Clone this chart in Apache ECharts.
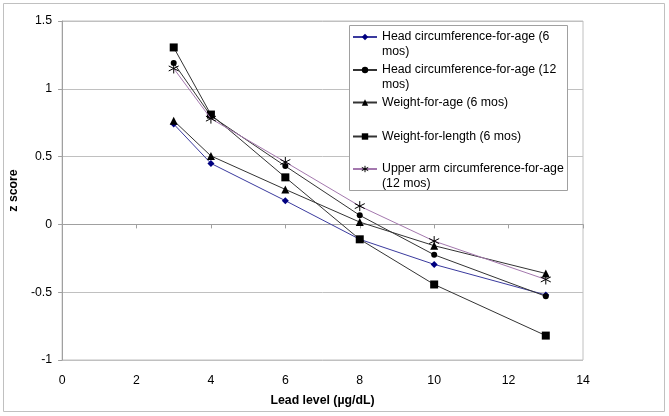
<!DOCTYPE html>
<html>
<head>
<meta charset="utf-8">
<script src="https://cdn.jsdelivr.net/npm/echarts@6/dist/echarts.min.js"></script>
<style>html,body{margin:0;padding:0;background:#fff;}#c{width:669px;height:416px;}</style>
</head>
<body>
<div id="c"></div>
<script>
var leadLevels = [3, 4, 6, 8, 10, 13];
var seriesNames = [
  'Head circumference-for-age (6\nmos)',
  'Head circumference-for-age (12\nmos)',
  'Weight-for-age (6 mos)',
  'Weight-for-length (6 mos)',
  'Upper arm circumference-for-age\n(12 mos)'
];
var headCirc6 = [0.74, 0.45, 0.175, -0.11, -0.295, -0.52];
var headCirc12 = [1.19, 0.80, 0.43, 0.067, -0.224, -0.53];
var weightForAge6 = [0.765, 0.505, 0.258, 0.017, -0.157, -0.362];
var weightForLength6 = [1.305, 0.81, 0.347, -0.11, -0.443, -0.82];
var upperArm12 = [1.15, 0.78, 0.46, 0.135, -0.123, -0.406];
var xTicks = [0, 2, 4, 6, 8, 10, 12, 14];
var yTicks = [-1, -0.5, 0, 0.5, 1, 1.5];

function pts(vals) { return leadLevels.map(function (x, i) { return [x, vals[i]]; }); }

var FONT = 'Liberation Sans, Arial, sans-serif';
var FS = 12.3;
var starPath = 'path://M0,-1L0,1M-0.866,-0.5L0.866,0.5M-0.866,0.5L0.866,-0.5';

var styles = [
  { symbol: 'diamond', size: 7, color: '#000080', line: '#3a3a9e', path: false },
  { symbol: 'circle', size: 6, color: '#000000', line: '#333333', path: false },
  { symbol: 'triangle', size: 8, color: '#000000', line: '#333333', path: false },
  { symbol: 'rect', size: 8, color: '#000000', line: '#333333', path: false },
  { symbol: starPath, size: 10, color: '#000000', line: '#a478ae', path: true }
];
var allData = [headCirc6, headCirc12, weightForAge6, weightForLength6, upperArm12];
var legendCenters = [37, 70, 102.5, 136.5, 169];

var series = allData.map(function (vals, i) {
  var s = styles[i];
  return {
    name: seriesNames[i],
    type: 'line',
    xAxisIndex: 0,
    yAxisIndex: 0,
    data: pts(vals),
    symbol: s.symbol,
    symbolSize: s.size,
    showSymbol: true,
    lineStyle: { color: s.line, width: 1 },
    itemStyle: s.path ? { color: 'none', borderColor: '#000', borderWidth: 1 } : { color: s.color, borderWidth: 0 },
    emphasis: { disabled: true },
    z: 2 + i
  };
});

var legends = seriesNames.map(function (n, i) {
  var twoLine = n.indexOf('\n') >= 0;
  var item = { name: n };
  if (styles[i].path) {
    item.itemStyle = { color: 'none', borderColor: '#000', borderWidth: 1 };
  }
  return {
    data: [item],
    orient: 'vertical',
    left: 352,
    top: legendCenters[i] - (twoLine ? 22.5 : 7.5),
    padding: 0,
    itemWidth: 24,
    itemHeight: 8,
    selectedMode: false,
    formatter: function (name) { return name.indexOf('\n') >= 0 ? '\n' + name : name; },
    textStyle: { fontFamily: FONT, fontSize: FS, color: '#000', lineHeight: 15 },
    z: 5
  };
});

var option = {
  animation: false,
  backgroundColor: '#fff',
  grid: { left: 60, top: 21, right: 86, bottom: 56, show: true, borderColor: '#c0c0c0', borderWidth: 1, containLabel: false },
  xAxis: [
    {
      type: 'value', min: 0, max: 14, interval: 2, position: 'bottom',
      name: 'Lead level (µg/dL)', nameLocation: 'middle', nameGap: 35,
      nameTextStyle: { fontFamily: FONT, fontSize: FS, fontWeight: 'bold', color: '#000' },
      axisLine: { show: false, onZero: false },
      axisTick: { show: false },
      splitLine: { show: false },
      axisLabel: { fontFamily: FONT, fontSize: FS, color: '#000', margin: 15,
        formatter: function (v) { return xTicks.indexOf(v) >= 0 ? String(v) : ''; } }
    },
    {
      type: 'value', min: 0, max: 14, interval: 2, position: 'bottom',
      axisLine: { show: true, onZero: true, onZeroAxisIndex: 0, lineStyle: { color: '#a0a0a0', width: 1 } },
      axisTick: { show: true, inside: false, length: 4, lineStyle: { color: '#a0a0a0' } },
      axisLabel: { show: false },
      splitLine: { show: false }
    }
  ],
  yAxis: {
    type: 'value', min: -1, max: 1.5, interval: 0.5,
    name: 'z score', nameLocation: 'middle', nameGap: 37,
    nameTextStyle: { fontFamily: FONT, fontSize: FS, fontWeight: 'bold', color: '#000' },
    axisLine: { show: true, lineStyle: { color: '#a0a0a0', width: 1 } },
    axisTick: { show: true, length: 4, lineStyle: { color: '#a0a0a0' } },
    splitLine: { show: true, lineStyle: { color: '#c0c0c0', width: 1 } },
    axisLabel: { fontFamily: FONT, fontSize: FS, color: '#000', margin: 10,
      formatter: function (v) { return yTicks.indexOf(v) >= 0 ? String(v) : ''; } }
  },
  legend: legends,
  graphic: [
    { type: 'rect', shape: { x: 3.5, y: 3.5, width: 661, height: 408 }, style: { fill: 'none', stroke: '#c0c0c0', lineWidth: 1 }, z: 0, silent: true },
    { type: 'rect', shape: { x: 349.5, y: 25.5, width: 218, height: 165 }, style: { fill: '#fff', stroke: '#a0a0a0', lineWidth: 1 }, z: 4, silent: true }
  ],
  series: series
};

var chart = echarts.init(document.getElementById('c'), null, { renderer: 'canvas' });
chart.setOption(option);
</script>
</body>
</html>
